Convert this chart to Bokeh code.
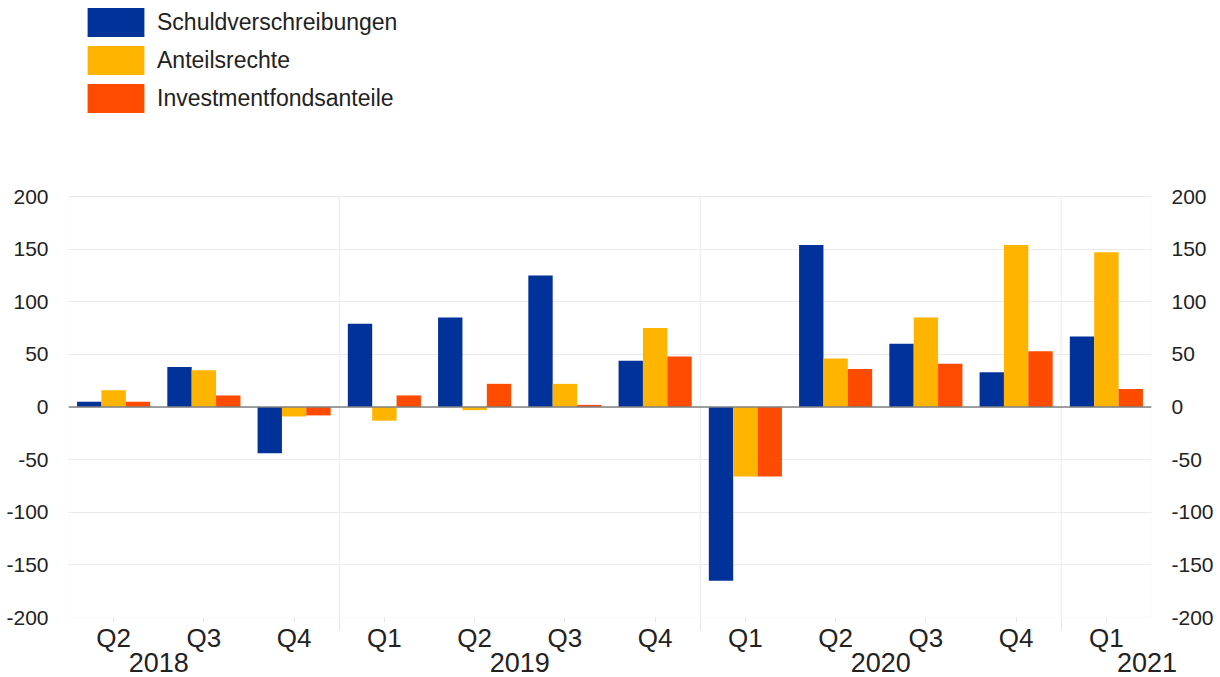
import numpy as np
from bokeh.plotting import figure
from bokeh.models import (Range1d, LinearAxis, FixedTicker, Legend, LegendItem, Span,
                          BoxAnnotation)
from bokeh.embed import file_html
from bokeh.resources import INLINE

quarters = ["Q2", "Q3", "Q4", "Q1", "Q2", "Q3", "Q4", "Q1", "Q2", "Q3", "Q4", "Q1"]
years = ["2018", "2019", "2020", "2021"]
year_pos = [0.5, 4.5, 8.5, 11.45]
year_breaks = [2.5, 6.5, 10.5]
series_names = ["Schuldverschreibungen", "Anteilsrechte", "Investmentfondsanteile"]
schuld = [5, 38, -44, 79, 85, 125, 44, -165, 154, 60, 33, 67]
anteil = [16, 35, -9, -13, -3, 22, 75, -66, 46, 85, 154, 147]
fonds = [5, 11, -8, 11, 22, 2, 48, -66, 36, 41, 53, 17]
y_ticks = [-200, -150, -100, -50, 0, 50, 100, 150, 200]
colors = ["#003299", "#ffb400", "#ff4b00"]

FONT = "Liberation Sans"
TXT = "#222222"

Y_MIN, Y_MAX = -200, 200
# frame spans full height above the plot area so the legend can sit at the top
y_top = Y_MAX + 196 / (421 / (Y_MAX - Y_MIN))

p = figure(width=1220, height=677,
           x_range=Range1d(-0.5, 11.5), y_range=Range1d(Y_MIN, y_top),
           output_backend="svg", toolbar_location=None,
           min_border_left=68, min_border_right=69, min_border_top=0, min_border_bottom=60)
p.outline_line_color = None
p.background_fill_color = "white"
p.border_fill_color = "white"
p.xgrid.grid_line_color = None

p.add_layout(BoxAnnotation(left=-0.5, right=11.5, bottom=Y_MIN, top=Y_MAX,
                           fill_color=None, line_color="#e6e6e6", line_width=1, level="underlay"))

# grids
p.ygrid.ticker = FixedTicker(ticks=y_ticks)
p.ygrid.grid_line_color = "#ebebeb"
p.segment(x0=year_breaks, y0=[Y_MIN] * len(year_breaks), x1=year_breaks, y1=[Y_MAX] * len(year_breaks),
          line_color="#ebebeb", line_width=1)

x = np.arange(len(quarters))
bw = 0.27
renderers = []
for vals, off, c in zip([schuld, anteil, fonds], [-bw, 0, bw], colors):
    r = p.vbar(x=x + off, top=vals, bottom=0, width=bw, fill_color=c, line_color=None)
    renderers.append(r)

p.add_layout(Span(location=0, dimension="width", line_color="#808080", line_width=1.5))

# y axes
yl = p.yaxis[0]
yr = LinearAxis()
p.add_layout(yr, "right")
for ax, so in [(yl, 14), (yr, 14)]:
    ax.ticker = FixedTicker(ticks=y_ticks)
    ax.major_label_overrides = {t: str(t) for t in y_ticks}
    ax.axis_line_color = None
    ax.major_tick_line_color = None
    ax.minor_tick_line_color = None
    ax.major_label_text_font = FONT
    ax.major_label_text_font_size = "21px"
    ax.major_label_text_color = TXT
    ax.major_label_standoff = so

# x axis quarters
xa = p.xaxis[0]
xa.ticker = FixedTicker(ticks=list(x), minor_ticks=year_breaks)
xa.major_label_overrides = {int(i): q for i, q in zip(x, quarters)}
xa.axis_line_color = None
xa.major_tick_line_color = "#e6e6e6"
xa.major_tick_out = 5
xa.major_tick_in = 0
xa.minor_tick_line_color = "#e6e6e6"
xa.minor_tick_out = 13
xa.minor_tick_in = 0
xa.major_label_text_font = FONT
xa.major_label_text_font_size = "26px"
xa.major_label_text_color = TXT
xa.major_label_standoff = -8

# x axis years
ya = LinearAxis()
p.add_layout(ya, "below")
ya.ticker = FixedTicker(ticks=year_pos)
ya.major_label_overrides = {pos: yv for pos, yv in zip(year_pos, years)}
ya.axis_line_color = None
ya.major_tick_line_color = None
ya.minor_tick_line_color = None
ya.major_tick_out = 0
ya.major_tick_in = 0
ya.major_label_text_font = FONT
ya.major_label_text_font_size = "27px"
ya.major_label_text_color = TXT
ya.major_label_standoff = -3

legend = Legend(items=[LegendItem(label=n, renderers=[r]) for n, r in zip(series_names, renderers)],
                location=(12, 501), glyph_width=71, glyph_height=36, spacing=2, padding=0,
                margin=0, border_line_color=None, background_fill_alpha=0,
                label_text_font=FONT, label_text_font_size="23px", label_text_color=TXT,
                label_standoff=6)
p.add_layout(legend, "center")

open("out.html", "w").write(file_html(p, INLINE))
